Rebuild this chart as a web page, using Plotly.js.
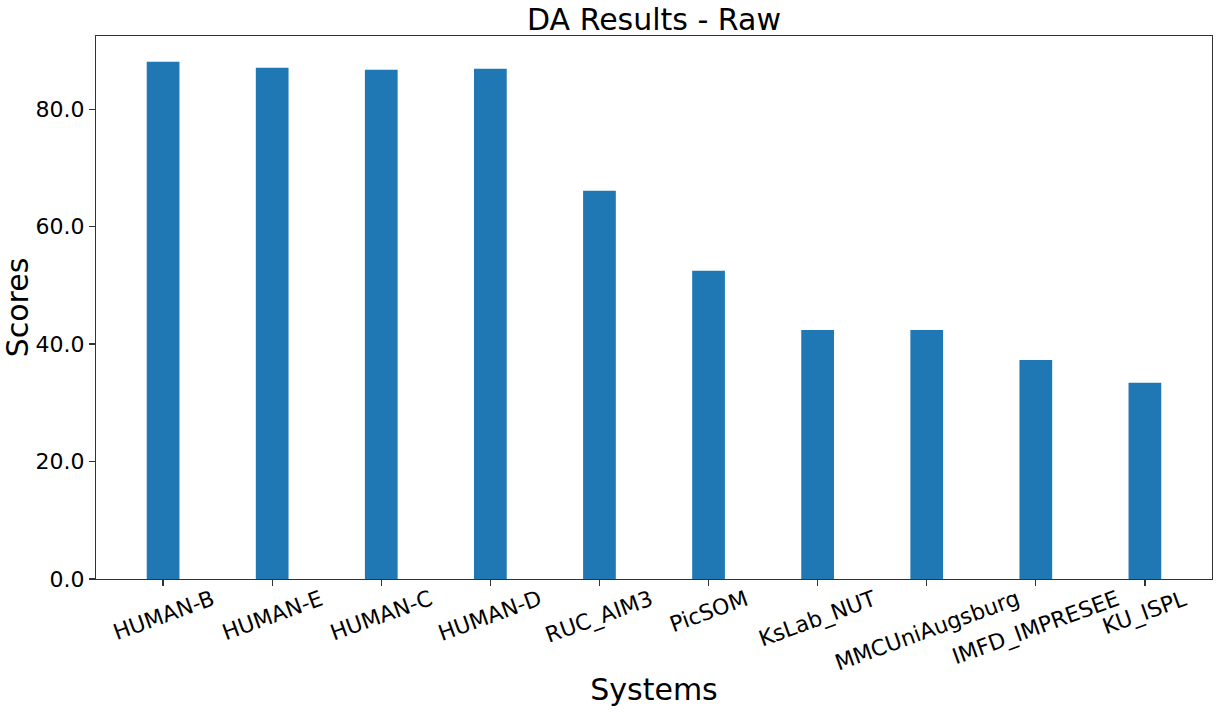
<!DOCTYPE html>
<html>
<head>
<meta charset="utf-8">
<script src="https://cdn.plot.ly/plotly-3.0.1.min.js"></script>
<style>html,body{margin:0;padding:0;background:#fff;}#chart{width:1219px;height:712px;}</style>
</head>
<body>
<div id="chart"></div>
<script>
const systems = ["HUMAN-B","HUMAN-E","HUMAN-C","HUMAN-D","RUC_AIM3","PicSOM","KsLab_NUT","MMCUniAugsburg","IMFD_IMPRESEE","KU_ISPL"];
const scores = [88.05, 87.03, 86.7, 86.86, 66.1, 52.5, 42.4, 42.4, 37.3, 33.4];
const yTicks = [0, 20, 40, 60, 80];

const font = "DejaVu Sans, sans-serif";
const idx = systems.map((_, i) => i);

// rotated category labels, centred under each tick (matplotlib-style)
const labelAnnotations = systems.map((s, i) => ({
  x: i, xref: "x", y: 0, yref: "paper",
  text: s, showarrow: false,
  textangle: -20, xanchor: "center", yanchor: "top",
  yshift: -4,
  font: {family: font, size: 22, color: "#000"}
}));

Plotly.newPlot("chart", [{
  type: "bar",
  x: idx,
  y: scores,
  width: 0.3,
  marker: {color: "#1f77b4", line: {width: 0}},
  hoverinfo: "skip"
}], {
  width: 1219, height: 712,
  margin: {l: 96, r: 7, t: 36, b: 133},
  paper_bgcolor: "#fff", plot_bgcolor: "#fff",
  showlegend: false,
  font: {family: font, color: "#000"},
  title: {text: "DA Results - Raw", font: {family: font, size: 30, color: "#000"}, x: 0.5365, xanchor: "center", y: 0.988, yanchor: "top"},
  annotations: labelAnnotations,
  xaxis: {
    range: [-0.615, 9.615],
    tickvals: idx, showticklabels: false,
    ticks: "outside", ticklen: 6, tickwidth: 1.2, tickcolor: "#333",
    showline: true, linecolor: "#333", linewidth: 1.2, mirror: true,
    showgrid: false, zeroline: false,
    title: {text: "Systems", font: {family: font, size: 30, color: "#000"}, standoff: 93}
  },
  yaxis: {
    range: [0, 92.45],
    tickvals: yTicks, tickformat: ".1f",
    tickfont: {family: font, size: 22, color: "#000"},
    ticks: "outside", ticklen: 6, tickwidth: 1.2, tickcolor: "#333",
    showline: true, linecolor: "#333", linewidth: 1.2, mirror: true,
    showgrid: false, zeroline: false,
    title: {text: "Scores", font: {family: font, size: 30, color: "#000"}, standoff: 7}
  }
}, {staticPlot: true});
</script>
</body>
</html>
